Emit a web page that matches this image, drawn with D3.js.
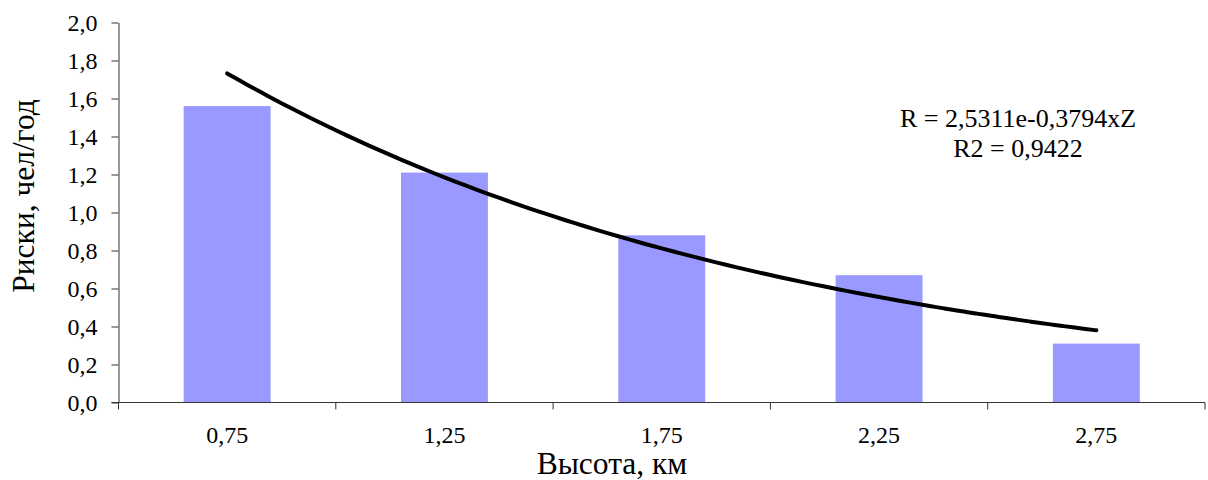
<!DOCTYPE html>
<html>
<head>
<meta charset="utf-8">
<script src="https://cdn.jsdelivr.net/npm/d3@7"></script>
<style>
  html, body { margin: 0; padding: 0; background: #fff; }
  svg { display: block; font-family: "Liberation Serif"; }
</style>
</head>
<body>
<svg id="chart" width="1208" height="480"></svg>
<script>
// Heights (km) and annual risk values
const categories = ["0,75", "1,25", "1,75", "2,25", "2,75"];
const risks = [1.56, 1.21, 0.88, 0.67, 0.31];
const yTicks = [0, 0.2, 0.4, 0.6, 0.8, 1.0, 1.2, 1.4, 1.6, 1.8, 2.0];
// Exponential trend R = a * e^(b * x), x = category number 1..5
const trendA = [2.5311];
const trendB = [-0.3794];
const trendR2 = [0.9422];

const serif = '"Liberation Serif"';
const svg = d3.select("#chart");
const plotLeft = 118.5, plotRight = 1205, plotTop = 22.5, plotBottom = 402.5;

const x = d3.scaleBand().domain(categories).range([plotLeft, plotRight])
  .paddingInner(0.6).paddingOuter(0.3);
const y = d3.scaleLinear().domain([0, 2]).range([plotBottom, plotTop]);
const fmt = v => d3.format(".1f")(v).replace(".", ",");

// bars
svg.append("g").selectAll("rect").data(risks).join("rect")
  .attr("x", (d, i) => x(categories[i]))
  .attr("y", d => y(d))
  .attr("width", x.bandwidth())
  .attr("height", d => y(0) - y(d))
  .attr("fill", "#9999FF");

// y axis
const yAxis = svg.append("g").attr("transform", `translate(${plotLeft},0)`)
  .call(d3.axisLeft(y).tickValues(yTicks).tickFormat(fmt).tickSize(7).tickPadding(14).tickSizeOuter(0))
  .attr("font-family", null).attr("font-size", null);
yAxis.select(".domain").attr("stroke", "#333");
yAxis.selectAll(".tick line").attr("stroke", "#333");
yAxis.selectAll(".tick text").attr("dy", "0.35em")
  .style("font-family", serif).style("font-size", "24px").style("fill", "#000");

// x axis: category boundaries carry the tick marks
const xAxisG = svg.append("g").attr("transform", `translate(0,${plotBottom})`);
xAxisG.append("line").attr("x1", plotLeft - 7).attr("x2", plotRight)
  .attr("stroke", "#333");
const bounds = categories.map(c => x(c) - x.step() * x.paddingOuter()).concat([plotRight]);
xAxisG.selectAll("line.tk").data(bounds).join("line").attr("class", "tk")
  .attr("x1", d => d).attr("x2", d => d).attr("y1", 0).attr("y2", 7)
  .attr("stroke", "#333");
xAxisG.selectAll("text").data(categories).join("text")
  .attr("x", d => x(d) + x.bandwidth() / 2)
  .attr("y", 40)
  .attr("text-anchor", "middle")
  .style("font-family", serif).style("font-size", "24px")
  .text(d => d);

// exponential trend line between first and last category centres
const xi = d3.scaleLinear().domain([1, categories.length])
  .range([x(categories[0]) + x.bandwidth() / 2, x(categories[categories.length - 1]) + x.bandwidth() / 2]);
const pts = d3.range(1, categories.length + 0.001, 0.05)
  .map(t => [xi(t), y(trendA[0] * Math.exp(trendB[0] * t))]);
svg.append("path").datum(pts)
  .attr("d", d3.line().curve(d3.curveBasis))
  .attr("fill", "none").attr("stroke", "#000").attr("stroke-width", 4)
  .attr("stroke-linecap", "round");

// trend equation
const eqLines = [
  `R = ${String(trendA[0]).replace(".", ",")}e${String(trendB[0]).replace(".", ",")}xZ`,
  `R2 = ${String(trendR2[0]).replace(".", ",")}`
];
svg.append("g").selectAll("text").data(eqLines).join("text")
  .attr("x", 1018).attr("y", (d, i) => 126.5 + i * 30.5)
  .attr("text-anchor", "middle")
  .style("font-family", serif).style("font-size", "26px")
  .text(d => d);

// axis titles
svg.append("text")
  .attr("transform", "translate(33.5,196) rotate(-90)")
  .attr("text-anchor", "middle")
  .style("font-family", serif).style("font-size", "31.5px")
  .text("Риски, чел/год");
svg.append("text")
  .attr("x", 612).attr("y", 474)
  .attr("text-anchor", "middle")
  .style("font-family", serif).style("font-size", "31.5px")
  .text("Высота, км");
</script>
</body>
</html>
